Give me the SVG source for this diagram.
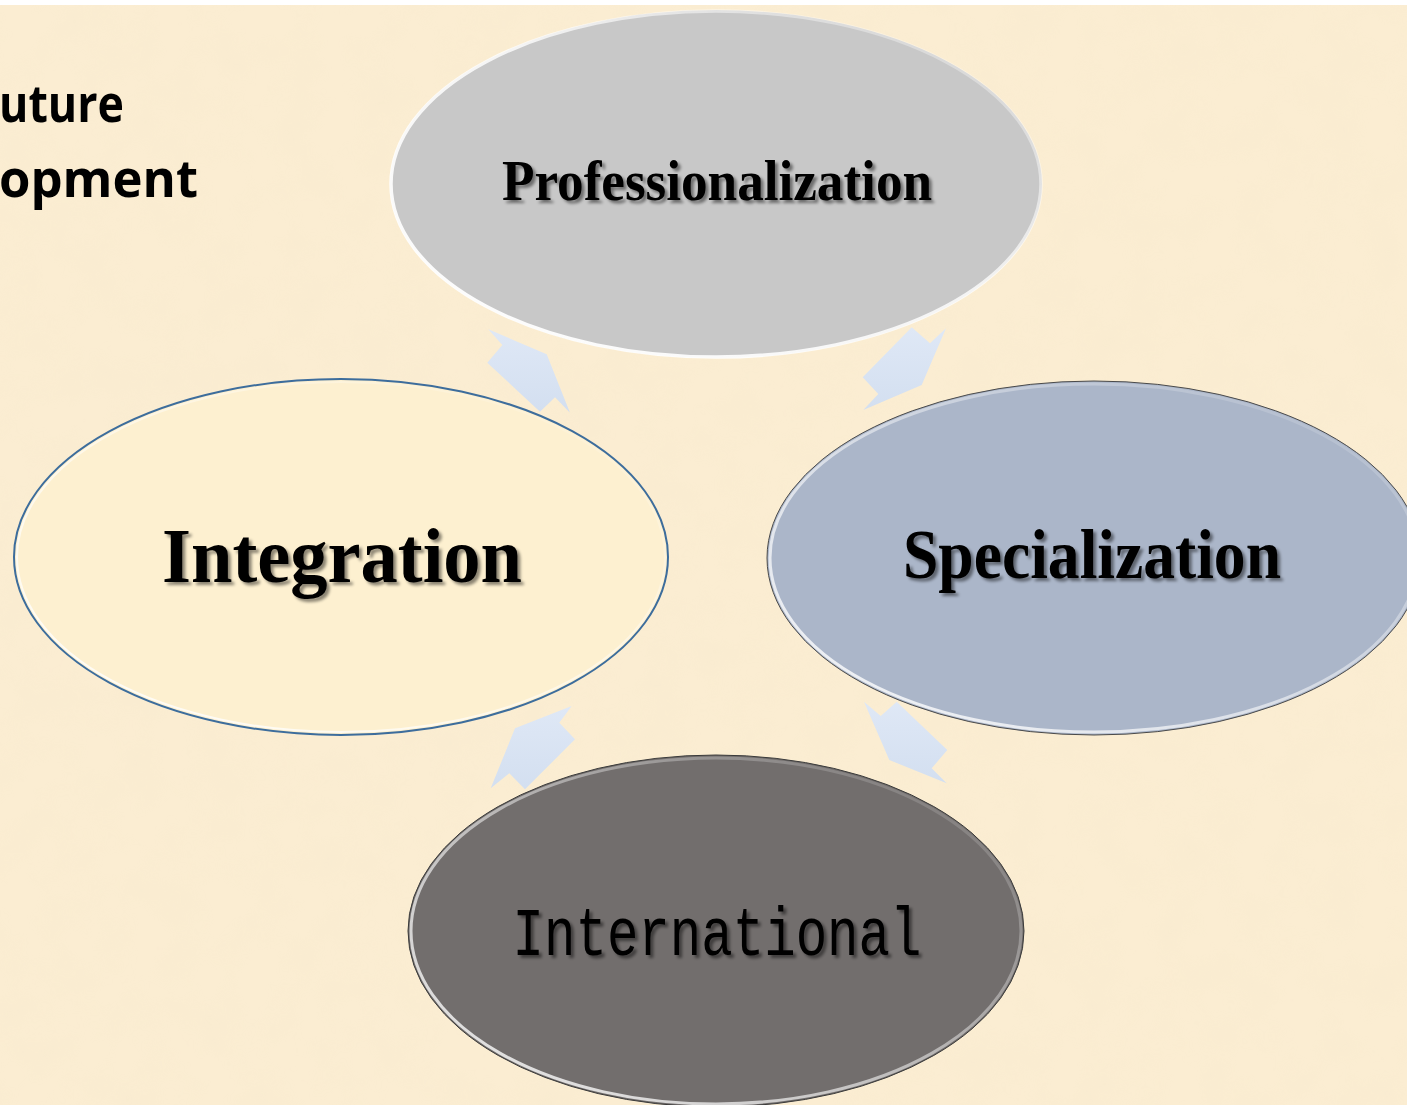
<svg xmlns="http://www.w3.org/2000/svg" width="1407" height="1105" viewBox="0 0 1407 1105">
<style>
.lbl{font-family:"Liberation Serif","Times New Roman",serif;font-weight:bold;fill:#000;text-anchor:middle;filter:url(#ts)}
.mono{font-family:"Liberation Mono","Courier New",monospace;font-weight:normal;fill:#000;text-anchor:middle;filter:url(#ts)}
.title{font-family:"Open Sans","Liberation Sans",sans-serif;font-weight:bold;fill:#000;font-size:52px}
.arrow{fill:url(#ag)}
</style>
<defs>
<filter id="ts" x="-10%" y="-30%" width="120%" height="160%">
<feDropShadow dx="3" dy="3" stdDeviation="1.5" flood-color="#000" flood-opacity="0.45"/>
</filter>
<filter id="tex" x="0" y="0" width="100%" height="100%">
<feTurbulence type="fractalNoise" baseFrequency="0.025" numOctaves="3" seed="4"/>
<feColorMatrix type="matrix" values="0 0 0 0 0.93  0 0 0 0 0.82  0 0 0 0 0.62  0 0 0 1.6 -0.6"/>
</filter>
<linearGradient id="ag" x1="0" y1="0" x2="0" y2="1">
<stop offset="0" stop-color="#dfe8f6"/>
<stop offset="1" stop-color="#d3dff0"/>
</linearGradient>
<linearGradient id="bevel" x1="0" y1="1" x2="1" y2="0">
<stop offset="0" stop-color="#ffffff" stop-opacity="1"/>
<stop offset="0.55" stop-color="#ffffff" stop-opacity="0.8"/>
<stop offset="1" stop-color="#ffffff" stop-opacity="0.1"/>
</linearGradient>
<linearGradient id="bevel2" x1="0" y1="1" x2="1" y2="0">
<stop offset="0" stop-color="#ffffff" stop-opacity="0.9"/>
<stop offset="0.5" stop-color="#ffffff" stop-opacity="0.5"/>
<stop offset="1" stop-color="#ffffff" stop-opacity="0"/>
</linearGradient>
</defs>

<rect x="0" y="0" width="1407" height="1105" fill="#fbedd2"/>
<rect x="0" y="0" width="1407" height="1105" filter="url(#tex)" opacity="0.45"/>
<rect x="0" y="0" width="1407" height="5" fill="#ffffff"/>

<g id="title">
<text class="title" x="-1" y="122" textLength="125" lengthAdjust="spacingAndGlyphs">uture</text>
<text class="title" x="-1" y="197" textLength="199" lengthAdjust="spacingAndGlyphs">opment</text>
</g>

<g id="connectors">
<polygon class="arrow" points="488.3,329.3 546.7,354.3 570,412.7 555,397.3 540,411.7 487.3,362.7 502.3,345"/>
<polygon class="arrow" points="911.7,327.3 930,343.3 946,328.3 921.7,385 863.3,410 878.3,394 862.7,377.3"/>
<polygon class="arrow" points="864,701.7 880.7,716 896.7,701.7 947.3,750 931.7,768.3 946.7,783.3 889.3,760"/>
<polygon class="arrow" points="571.7,706 559.3,722.7 575,739.3 525,789.3 509.3,773.3 490.7,788.3 515,728.3"/>
</g>

<g id="node-professionalization">
<ellipse cx="716" cy="184" rx="326" ry="174" fill="#c8c8c8"/>
<ellipse cx="716" cy="184" rx="325" ry="173" fill="none" stroke="url(#bevel)" stroke-width="3.5"/>
<text class="lbl" x="717" y="200" font-size="56" textLength="430" lengthAdjust="spacingAndGlyphs">Professionalization</text>
</g>

<g id="node-integration">
<ellipse cx="341" cy="557" rx="327" ry="178" fill="#fdf0d0" stroke="#3d6d9c" stroke-width="2"/>
<ellipse cx="341" cy="557" rx="324" ry="175" fill="none" stroke="url(#bevel2)" stroke-width="2"/>
<text class="lbl" x="342" y="582" font-size="78" textLength="360" lengthAdjust="spacingAndGlyphs">Integration</text>
</g>

<g id="node-specialization">
<ellipse cx="1094" cy="558" rx="327" ry="177" fill="#abb6c9" stroke="#4a4a4a" stroke-width="1"/>
<ellipse cx="1094" cy="558" rx="324" ry="174" fill="none" stroke="url(#bevel2)" stroke-width="3"/>
<text class="lbl" x="1092" y="578" font-size="70" textLength="378" lengthAdjust="spacingAndGlyphs">Specialization</text>
</g>

<g id="node-international">
<ellipse cx="716" cy="931" rx="308" ry="176" fill="#726e6d" stroke="#3a3a3a" stroke-width="1"/>
<ellipse cx="716" cy="931" rx="305" ry="173" fill="none" stroke="url(#bevel2)" stroke-width="3"/>
<text class="mono" x="717" y="955" font-size="68" textLength="409" lengthAdjust="spacingAndGlyphs">International</text>
</g>
</svg>
